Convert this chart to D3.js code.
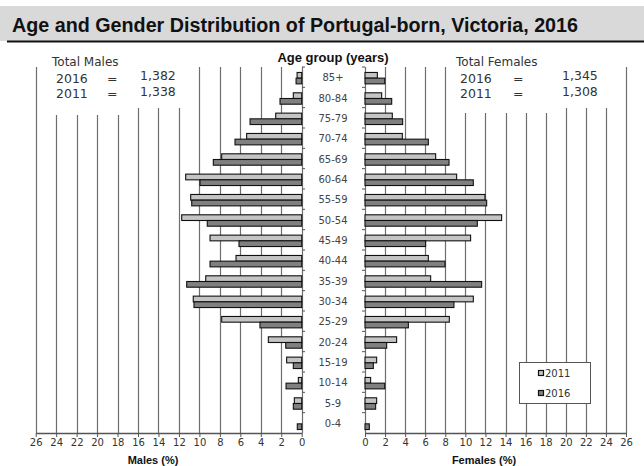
<!DOCTYPE html>
<html>
<head>
<meta charset="utf-8">
<script src="https://cdn.jsdelivr.net/npm/d3@7"></script>
<style>
  body { margin: 0; background: #fff; }
  svg text { font-family: "DejaVu Sans", sans-serif; }
</style>
</head>
<body>
<div id="chart"></div>
<script>
// age groups, top to bottom
var ageGroups = ["85+","80-84","75-79","70-74","65-69","60-64","55-59","50-54","45-49",
                 "40-44","35-39","30-34","25-29","20-24","15-19","10-14","5-9","0-4"];
// percent of total
var males2011   = [0.45,0.82,2.54,5.38,7.82,11.34,10.85,11.73,8.96,6.42,9.38,10.6,7.82,3.26,1.47,0.33,0.72,0];
var males2016   = [0.55,2.12,5.05,6.52,8.64,9.94,10.75,9.23,6.13,8.96,11.24,10.53,4.08,1.56,0.82,1.53,0.82,0.43];
var females2011 = [1.23,1.66,2.72,3.72,7.04,9.13,11.95,13.61,10.52,6.31,6.54,10.79,8.4,3.15,1.16,0.56,1.16,0];
var females2016 = [1.96,2.66,3.75,6.31,8.37,10.79,12.12,11.19,6.04,7.97,11.62,8.86,4.32,2.16,0.83,1.96,1.06,0.43];
var tickValues = [0,2,4,6,8,10,12,14,16,18,20,22,24,26];
var years = ["2011","2016"];
var maleTotals = [["2016","1,382"],["2011","1,338"]];
var femaleTotals = [["2016","1,345"],["2011","1,308"]];

var W = 644, H = 466;
var plotTop = 67, plotBottom = 433;
var col2011 = "#c4c4c4", col2016 = "#808080", gridCol = "#6e6e6e";

var svg = d3.select("#chart").append("svg")
    .attr("width", W).attr("height", H);

// title bar
svg.append("rect").attr("x", 0).attr("y", 6).attr("width", W).attr("height", 35).attr("fill", "#d9d9d9");
svg.append("line").attr("x1", 7).attr("x2", W).attr("y1", 41.5).attr("y2", 41.5)
    .attr("stroke", "#111").attr("stroke-width", 2);
svg.append("text").attr("x", 12).attr("y", 32)
    .attr("textLength", 566).attr("lengthAdjust", "spacingAndGlyphs")
    .style("font-family", "'Liberation Sans', Arial, sans-serif")
    .style("font-weight", "bold").style("font-size", "20px").attr("fill", "#111")
    .text("Age and Gender Distribution of Portugal-born, Victoria, 2016");

var y = d3.scaleBand().domain(ageGroups).range([plotTop, plotBottom]);
var xL = d3.scaleLinear().domain([0, 26]).range([301.7, 35.7]);
var xR = d3.scaleLinear().domain([0, 26]).range([365, 626]);
var barH = 5.7;

// gridlines
[xL, xR].forEach(function (sc) {
    svg.append("g").selectAll("line").data(tickValues).enter().append("line")
        .attr("x1", function (d) { return Math.round(sc(d)) + 0.5; })
        .attr("x2", function (d) { return Math.round(sc(d)) + 0.5; })
        .attr("y1", plotTop).attr("y2", plotBottom)
        .attr("stroke", gridCol).attr("stroke-width", 1.2);
});

// white boxes behind total texts
svg.append("rect").attr("x", 45).attr("y", 55).attr("width", 86).attr("height", 60).attr("fill", "#fff");
svg.append("rect").attr("x", 131).attr("y", 55).attr("width", 60).attr("height", 53).attr("fill", "#fff");
svg.append("rect").attr("x", 450).attr("y", 55).attr("width", 106).attr("height", 58).attr("fill", "#fff");
svg.append("rect").attr("x", 556).attr("y", 55).attr("width", 60).attr("height", 53).attr("fill", "#fff");

// bottom axes
function bottomAxis(sc) {
    var g = svg.append("g").attr("transform", "translate(0," + plotBottom + ")")
        .call(d3.axisBottom(sc).tickValues(tickValues).tickSize(4).tickSizeOuter(0));
    g.select(".domain").attr("stroke", "#555").attr("stroke-width", 1.3);
    g.selectAll(".tick line").attr("stroke", "#555");
    g.selectAll(".tick text").attr("fill", "#333").style("font-size", "10px")
        .style("font-family", "'DejaVu Sans', sans-serif").attr("dy", "0.6em");
}
bottomAxis(xL);
bottomAxis(xR);

// category ticks on the zero lines
var bounds = ageGroups.map(function (d) { return y(d); });
svg.append("g").selectAll("line").data(bounds).enter().append("line")
    .attr("x1", 302).attr("x2", 305).attr("y1", function (d) { return d; }).attr("y2", function (d) { return d; })
    .attr("stroke", "#555");
svg.append("g").selectAll("line").data(bounds).enter().append("line")
    .attr("x1", 362).attr("x2", 365).attr("y1", function (d) { return d; }).attr("y2", function (d) { return d; })
    .attr("stroke", "#555");

// bars
function drawBars(vals, sc, side, offset, fill) {
    svg.append("g").selectAll("rect").data(vals).enter().append("rect")
        .attr("x", function (d) { return side < 0 ? sc(d) : sc(0); })
        .attr("y", function (d, i) { return y(ageGroups[i]) + y.bandwidth() / 2 + 1 + offset; })
        .attr("width", function (d) { return Math.abs(sc(d) - sc(0)); })
        .attr("height", barH)
        .attr("fill", fill).attr("stroke", "#111").attr("stroke-width", 1.1)
        .style("display", function (d) { return d > 0 ? null : "none"; });
}
drawBars(males2011, xL, -1, -barH, col2011);
drawBars(males2016, xL, -1, 0, col2016);
drawBars(females2011, xR, 1, -barH, col2011);
drawBars(females2016, xR, 1, 0, col2016);

// age group labels
svg.append("g").selectAll("text").data(ageGroups).enter().append("text")
    .attr("x", 333).attr("y", function (d) { return y(d) + y.bandwidth() / 2 + 4; })
    .attr("text-anchor", "middle").attr("fill", "#444").style("font-size", "10px")
    .text(function (d) { return d; });

svg.append("text").attr("x", 333).attr("y", 62).attr("text-anchor", "middle")
    .style("font-family", "'Liberation Sans', Arial, sans-serif")
    .style("font-weight", "bold").style("font-size", "13px").attr("fill", "#111")
    .text("Age group (years)");

svg.append("text").attr("x", 153).attr("y", 464).attr("text-anchor", "middle")
    .style("font-family", "'Liberation Sans', Arial, sans-serif")
    .style("font-weight", "bold").style("font-size", "11px").attr("fill", "#111")
    .text("Males (%)");
svg.append("text").attr("x", 484).attr("y", 464).attr("text-anchor", "middle")
    .style("font-family", "'Liberation Sans', Arial, sans-serif")
    .style("font-weight", "bold").style("font-size", "11px").attr("fill", "#111")
    .text("Females (%)");

// totals
function totals(x0, label, rows, xEq, xNum) {
    svg.append("text").attr("x", x0).attr("y", 66).attr("fill", "#333")
        .style("font-size", "12px").text(label);
    rows.forEach(function (r, i) {
        svg.append("text").attr("x", x0 + 4).attr("y", 83 + i * 15).attr("fill", "#333")
            .style("font-size", "12.5px").text(r[0]);
        svg.append("text").attr("x", xEq).attr("y", 83 + i * 15).attr("fill", "#333")
            .style("font-size", "12.5px").text("=");
        svg.append("text").attr("x", xNum).attr("y", 80 + i * 16).attr("fill", "#333")
            .style("font-size", "12.5px").text(r[1]);
    });
}
totals(52, "Total Males", maleTotals, 107, 140);
totals(456, "Total Females", femaleTotals, 513, 562);

// legend
var lg = svg.append("g");
lg.append("rect").attr("x", 519.5).attr("y", 362.5).attr("width", 71).attr("height", 41)
    .attr("fill", "#fff").attr("stroke", "#555");
years.forEach(function (yr, i) {
    lg.append("rect").attr("x", 538.5).attr("y", 370.5 + i * 20).attr("width", 5).attr("height", 5)
        .attr("fill", i === 0 ? col2011 : col2016).attr("stroke", "#111").attr("stroke-width", 1.2);
    lg.append("text").attr("x", 545).attr("y", 377 + i * 20).attr("fill", "#333")
        .style("font-size", "10px").text(yr);
});
</script>
</body>
</html>
